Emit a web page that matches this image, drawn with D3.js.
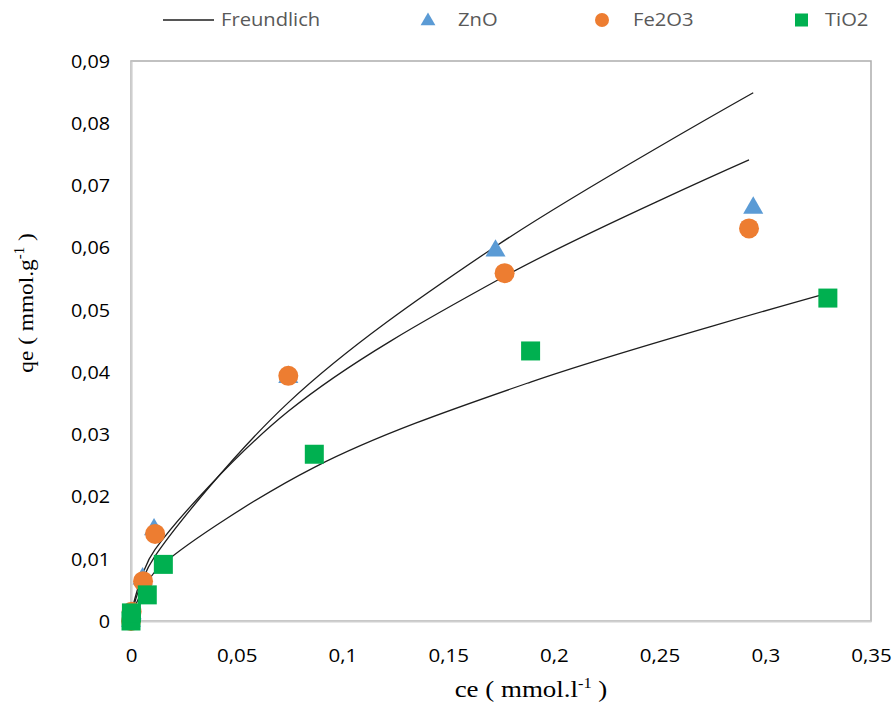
<!DOCTYPE html>
<html>
<head>
<meta charset="utf-8">
<script src="https://cdn.jsdelivr.net/npm/d3@7"></script>
<style>
  html, body { margin: 0; padding: 0; background: #fff; }
  svg { display: block; }
</style>
</head>
<body>
<svg id="chart" width="893" height="704"></svg>
<script>
// Adsorption isotherms: measured qe vs ce, with Freundlich fitted curves
const ceZnO   = [0, 0.0003, 0.0055, 0.0109, 0.0744, 0.1724, 0.2943];
const qeZnO   = [0, 0.0012, 0.0068, 0.0147, 0.0392, 0.0595, 0.0664];
const fitZnO  = [0, 0.0010, 0.0066, 0.0102, 0.0351, 0.0602, 0.0849];

const ceFe    = [0, 0.0003, 0.0057, 0.0114, 0.0744, 0.1767, 0.2923];
const qeFe    = [0, 0.0015, 0.0064, 0.0140, 0.0394, 0.0559, 0.0631];
const fitFe   = [0, 0.0014, 0.0077, 0.0115, 0.0337, 0.0554, 0.0741];

const ceTi    = [0, 0.0002, 0.0077, 0.0153, 0.0867, 0.1890, 0.3296];
const qeTi    = [0, 0.0013, 0.0042, 0.0091, 0.0268, 0.0434, 0.0519];
const fitTi   = [0, 0.0008, 0.0062, 0.0092, 0.0247, 0.0384, 0.0527];

const xTicks = [0, 0.05, 0.1, 0.15, 0.2, 0.25, 0.3, 0.35];
const yTicks = [0, 0.01, 0.02, 0.03, 0.04, 0.05, 0.06, 0.07, 0.08, 0.09];
const legendLabels = ["Freundlich", "ZnO", "Fe2O3", "TiO2"];

const colors = { ZnO: "#5B9BD5", Fe: "#ED7D31", Ti: "#00B050", line: "#1e1e1e" };
const sans = "'Open Sans', 'Noto Sans', sans-serif";
const serif = "'Liberation Serif', 'Times New Roman', serif";

const svg = d3.select("#chart");
const plot = { left: 131, top: 61, right: 871, bottom: 621 };

const x = d3.scaleLinear().domain([0, 0.35]).range([plot.left, plot.right]);
const y = d3.scaleLinear().domain([0, 0.09]).range([plot.bottom, plot.top]);

const fmt = v => v === 0 ? "0" : String(+v.toFixed(2)).replace(".", ",");

// widen glyphs horizontally by factor k
function stretch(sel, k) {
  sel.each(function () {
    const w = this.getComputedTextLength();
    d3.select(this).attr("textLength", w * k).attr("lengthAdjust", "spacingAndGlyphs");
  });
}

// plot area frame
svg.append("rect")
  .attr("x", plot.left).attr("y", plot.top)
  .attr("width", plot.right - plot.left).attr("height", plot.bottom - plot.top)
  .attr("fill", "none").attr("stroke", "#ADADAD").attr("stroke-width", 1.5);

// axes (lines only, no tick marks)
const xAxis = d3.axisBottom(x).tickValues(xTicks).tickSize(0).tickFormat(fmt);
const yAxis = d3.axisLeft(y).tickValues(yTicks).tickSize(0).tickFormat(fmt);

const gx = svg.append("g").attr("transform", `translate(0,${plot.bottom})`).call(xAxis);
gx.select(".domain").attr("stroke", "#CFCFCF").attr("stroke-width", 2.2);
gx.selectAll(".tick text")
  .attr("y", 0).attr("dy", "41px")
  .attr("font-family", sans).attr("font-size", 19).attr("fill", "#000");
stretch(gx.selectAll(".tick text"), 1.08);

const gy = svg.append("g").attr("transform", `translate(${plot.left},0)`).call(yAxis);
gy.select(".domain").attr("stroke", "#CFCFCF").attr("stroke-width", 2.2);
gy.selectAll(".tick text")
  .attr("x", -21).attr("dy", "0.36em")
  .attr("font-family", sans).attr("font-size", 17.5).attr("fill", "#000");
stretch(gy.selectAll(".tick text"), 1.13);

// Freundlich curves
const line = d3.line().x(d => x(d[0])).y(d => y(d[1])).curve(d3.curveCatmullRom.alpha(0.5));
[[ceZnO, fitZnO], [ceFe, fitFe], [ceTi, fitTi]].forEach(([cs, qs]) => {
  svg.append("path")
    .datum(d3.zip(cs, qs))
    .attr("d", line)
    .attr("fill", "none").attr("stroke", colors.line).attr("stroke-width", 1.3);
});

// markers
const tri = d3.symbol().type(d3.symbolTriangle).size(175);
svg.append("g").selectAll("path").data(d3.zip(ceZnO, qeZnO)).join("path")
  .attr("d", tri)
  .attr("transform", d => `translate(${x(d[0])},${y(d[1])})`)
  .attr("fill", colors.ZnO);

svg.append("g").selectAll("circle").data(d3.zip(ceFe, qeFe)).join("circle")
  .attr("cx", d => x(d[0])).attr("cy", d => y(d[1])).attr("r", 10)
  .attr("fill", colors.Fe);

const sq = 19;
svg.append("g").selectAll("rect").data(d3.zip(ceTi, qeTi)).join("rect")
  .attr("x", d => x(d[0]) - sq / 2).attr("y", d => y(d[1]) - sq / 2)
  .attr("width", sq).attr("height", sq)
  .attr("fill", colors.Ti);

// legend
const lg = svg.append("g").attr("font-family", sans).attr("font-size", 18).attr("fill", "#595959");
const ly = 20;
lg.append("line").attr("x1", 163).attr("x2", 214).attr("y1", ly).attr("y2", ly)
  .attr("stroke", colors.line).attr("stroke-width", 1.3);
lg.append("path").attr("d", d3.symbol().type(d3.symbolTriangle).size(95))
  .attr("transform", `translate(428,${ly + 1})`).attr("fill", colors.ZnO);
lg.append("circle").attr("cx", 602).attr("cy", ly).attr("r", 7).attr("fill", colors.Fe);
lg.append("rect").attr("x", 795).attr("y", ly - 6.5).attr("width", 13).attr("height", 13).attr("fill", colors.Ti);
const legendX = [221, 458, 633, 825];
const lt = lg.selectAll("text").data(legendLabels).join("text")
  .attr("x", (d, i) => legendX[i]).attr("y", ly).attr("dy", "0.36em")
  .text(d => d);
stretch(lt, 1.12);

// axis titles
const xt = svg.append("text")
  .attr("x", 531).attr("y", 697)
  .attr("text-anchor", "middle")
  .attr("font-family", serif).attr("font-size", 23).attr("fill", "#000");
xt.append("tspan").text("ce ( mmol.l");
xt.append("tspan").attr("font-size", 14).attr("dy", -9).text("-1");
xt.append("tspan").attr("dy", 9).text(" )");
stretch(xt, 1.17);

const yt = svg.append("text")
  .attr("transform", "translate(33,303) rotate(-90)")
  .attr("text-anchor", "middle")
  .attr("font-family", serif).attr("font-size", 22).attr("fill", "#000");
yt.append("tspan").text("qe ( mmol.g");
yt.append("tspan").attr("font-size", 14).attr("dy", -9).text("-1");
yt.append("tspan").attr("dy", 9).text(" )");
stretch(yt, 1.06);
</script>
</body>
</html>
